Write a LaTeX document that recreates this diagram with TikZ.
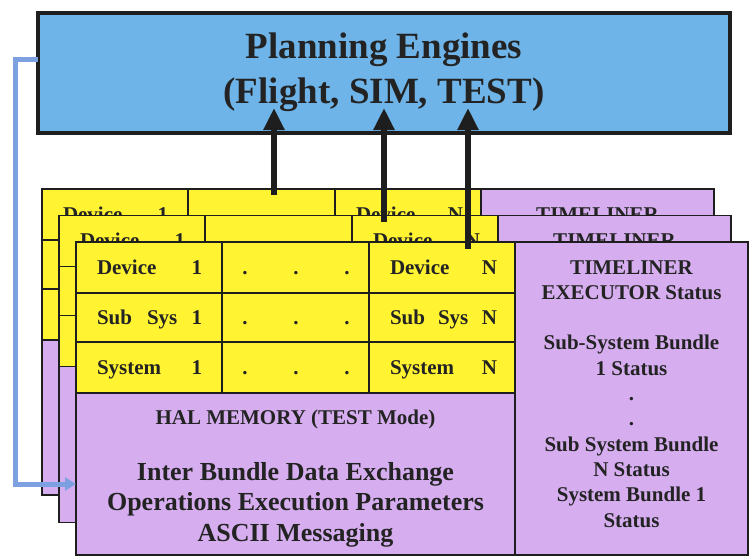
\documentclass[tikz,border=0pt]{standalone}
\usepackage{fontspec}
\setmainfont{Liberation Serif}
\usetikzlibrary{arrows.meta,calc}
\definecolor{engblue}{RGB}{110,180,232}
\definecolor{cellyellow}{RGB}{255,243,50}
\definecolor{cellpurple}{RGB}{214,174,240}
\definecolor{conblue}{RGB}{125,160,225}
\definecolor{linecol}{RGB}{30,30,30}
\definecolor{txtcol}{RGB}{35,35,35}
\tikzset{
  cell/.style={draw=linecol, line width=1.3pt, inner sep=0pt, outer sep=0pt, anchor=north west},
  ycell/.style={cell, fill=cellyellow},
  pcell/.style={cell, fill=cellpurple},
  ctxt/.style={font=\fontsize{21}{25}\selectfont\bfseries, text=txtcol, inner sep=0pt, outer sep=0pt},
  haltxt/.style={font=\fontsize{21}{25}\selectfont\bfseries, text=txtcol, inner sep=0pt, outer sep=0pt, anchor=base},
  bigtxt/.style={font=\fontsize{26}{30}\selectfont\bfseries, text=txtcol, inner sep=0pt, outer sep=0pt, anchor=base},
  engtxt/.style={font=\fontsize{37}{45}\selectfont\bfseries, text=txtcol, inner sep=0pt, outer sep=0pt, anchor=base},
  engbox/.style={draw=linecol, line width=3.5pt, fill=engblue, inner sep=0pt, outer sep=0pt, anchor=north west},
  uparrow/.style={draw=linecol, line width=6pt, -{Triangle[length=22pt,width=20pt]}},
  bluecon/.style={draw=conblue, line width=5pt, -{Triangle[length=11pt,width=13pt]}},
}
\begin{document}
\begin{tikzpicture}[x=1pt,y=-1pt]
\useasboundingbox (0,0) rectangle (752,557);

% Planning engines box
\node[engbox, minimum width=692pt, minimum height=120pt] (eng) at (38,13) {};
\node[engtxt] (eng1) at (384,58) {Planning Engines};
\node[engtxt] (eng2) at (384,103) {(Flight, SIM, TEST)};

% three stacked layers (back layers only show what is not hidden)
\foreach \n/\ox/\oy/\h/\hh/\full in {A/42/189/306/155/0, B/59/215.5/307/156/0, C/76/242/313/162/1} {
  \begin{scope}[shift={(\ox,\oy)}]
    \node[pcell, minimum width=233pt, minimum height=\h pt] (\n-tl) at (439,0) {};
    \node[pcell, minimum width=439pt, minimum height=\hh pt] (\n-hal) at (0,151) {};
    \node[ycell, minimum width=146pt, minimum height=51pt] (\n-d1) at (0,0) {};
    \node[ycell, minimum width=147pt, minimum height=51pt] (\n-dd1) at (146,0) {};
    \node[ycell, minimum width=146pt, minimum height=51pt] (\n-dN) at (293,0) {};
    \node[ycell, minimum width=146pt, minimum height=49pt] (\n-s1) at (0,51) {};
    \node[ycell, minimum width=147pt, minimum height=49pt] (\n-ss1) at (146,51) {};
    \node[ycell, minimum width=146pt, minimum height=49pt] (\n-sN) at (293,51) {};
    \node[ycell, minimum width=146pt, minimum height=51pt] (\n-y1) at (0,100) {};
    \node[ycell, minimum width=147pt, minimum height=51pt] (\n-yy1) at (146,100) {};
    \node[ycell, minimum width=146pt, minimum height=51pt] (\n-yN) at (293,100) {};
    % first-row texts (partly visible on every layer)
    \node[ctxt, anchor=base west] (\n-d1a) at (21,32) {Device};
    \node[ctxt, anchor=base east] (\n-d1b) at (126,32) {1};
    \node[ctxt, anchor=base west] (\n-dNa) at (314,32) {Device};
    \node[ctxt, anchor=base east] (\n-dNb) at (421,32) {N};
    \node[ctxt, anchor=base] (\n-t0) at (555.5,32) {TIMELINER};
    \ifnum\full=1
    \node[ctxt, anchor=base west] (\n-s1a) at (21,82) {Sub};
    \node[ctxt, anchor=base west] (\n-s1b) at (71,82) {Sys};
    \node[ctxt, anchor=base east] (\n-s1c) at (126,82) {1};
    \node[ctxt, anchor=base west] (\n-y1a) at (21,132) {System};
    \node[ctxt, anchor=base east] (\n-y1b) at (126,132) {1};
    \node[ctxt, anchor=base west] (\n-sNa) at (314,82) {Sub};
    \node[ctxt, anchor=base west] (\n-sNb) at (362,82) {Sys};
    \node[ctxt, anchor=base east] (\n-sNc) at (421,82) {N};
    \node[ctxt, anchor=base west] (\n-yNa) at (314,132) {System};
    \node[ctxt, anchor=base east] (\n-yNb) at (421,132) {N};
    \foreach \r/\yy in {1/32,2/82,3/132} {
      \foreach \k/\xx in {1/169,2/220,3/271} {
        \node[ctxt, anchor=base] (\n-dot\r\k) at (\xx,\yy) {.};
      }
    }
    % timeliner texts
    \foreach \i/\t in {1/EXECUTOR Status,3/Sub-System Bundle,4/1 Status,5/.,6/.,7/Sub System Bundle,8/N Status,9/System Bundle 1,10/Status} {
      \node[ctxt, anchor=base] (\n-t\i) at (555.5,{32+25.3*\i}) {\t};
    }
    % HAL memory texts
    \node[haltxt] (\n-h0) at (219.5,182) {HAL MEMORY (TEST Mode)};
    \node[bigtxt] (\n-h1) at (219.5,238) {Inter Bundle Data Exchange};
    \node[bigtxt] (\n-h2) at (219.5,268) {Operations Execution Parameters};
    \node[bigtxt] (\n-h3) at (219.5,299) {ASCII Messaging};
    \fi
  \end{scope}
}

% arrows up to planning engines
\coordinate (s1) at ($(A-dd1.north)+(12.5,6)$);
\coordinate (s2) at ($(B-dN.north)+(-41,6.5)$);
\coordinate (s3) at ($(C-dN.north)+(26,7)$);
\draw[uparrow] (s1) -- ($(s1 |- eng.south)+(0,-25)$);
\draw[uparrow] (s2) -- ($(s2 |- eng.south)+(0,-25)$);
\draw[uparrow] (s3) -- ($(s3 |- eng.south)+(0,-25)$);

% blue feedback connector
\coordinate (bend) at (15,484);
\draw[bluecon] ($(eng.north west)+(0,46)$) -| (bend) -- ($(C-hal.west)+(0,10)$);
\end{tikzpicture}
\end{document}
